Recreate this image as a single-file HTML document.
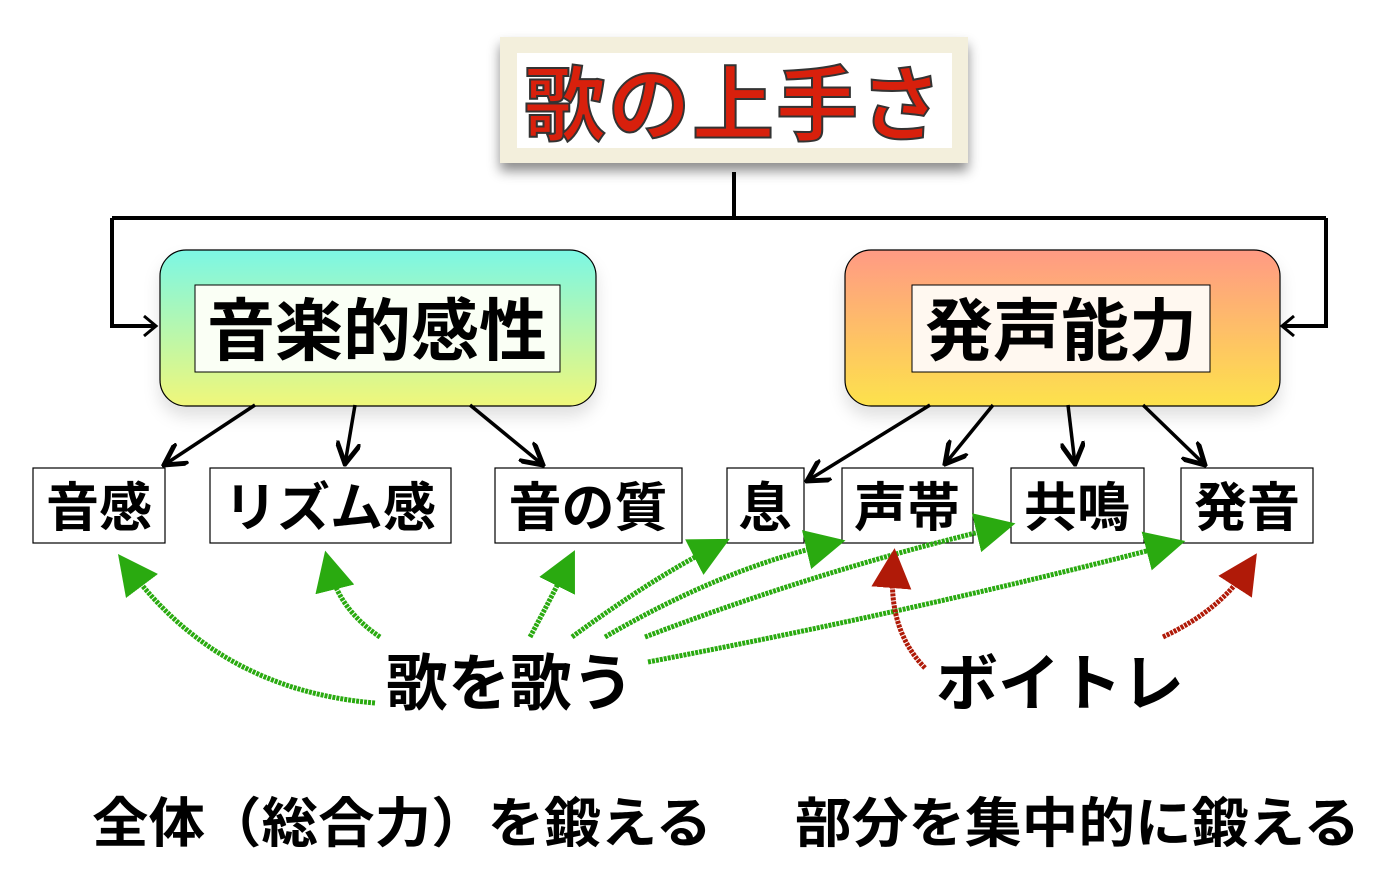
<!DOCTYPE html>
<html><head><meta charset="utf-8"><style>
html,body{margin:0;padding:0;background:#fff;}
svg{display:block}
text{font-family:"Liberation Sans","Noto Sans CJK JP",sans-serif;font-weight:bold;}
</style></head><body>
<svg width="1388" height="880" viewBox="0 0 1388 880" xmlns="http://www.w3.org/2000/svg">
<defs>
<linearGradient id="gl" x1="0" y1="0" x2="0" y2="1"><stop offset="0" stop-color="#7cf7e4"/><stop offset="1" stop-color="#f0f77a"/></linearGradient>
<linearGradient id="gr" x1="0" y1="0" x2="0" y2="1"><stop offset="0" stop-color="#ff9a84"/><stop offset="1" stop-color="#fde24c"/></linearGradient>
<filter id="sh" x="-10%" y="-10%" width="120%" height="140%"><feDropShadow dx="0" dy="8" stdDeviation="6" flood-opacity="0.45"/></filter>
<filter id="sh2" x="-10%" y="-10%" width="120%" height="140%"><feDropShadow dx="0" dy="10" stdDeviation="8" flood-opacity="0.12"/></filter>
<marker id="ab" viewBox="0 0 10 10" refX="9" refY="5" markerWidth="7" markerHeight="7" orient="auto"><path d="M0,0 L9,5 L0,10" fill="none" stroke="#000" stroke-width="2"/></marker>
<marker id="ag" viewBox="0 0 10 10" refX="5" refY="5" markerWidth="8" markerHeight="8" orient="auto"><path d="M0,0 L10,5 L0,10 z" fill="#2aaa10"/></marker>
<marker id="ar" viewBox="0 0 10 10" refX="5" refY="5" markerWidth="8" markerHeight="8" orient="auto"><path d="M0,0 L10,5 L0,10 z" fill="#b01a08"/></marker>
</defs>
<rect x="500" y="37" width="468" height="126" fill="#f3efdc" filter="url(#sh)"/>
<rect x="517" y="53" width="435" height="95" fill="#fff"/>
<text x="734" y="134" font-size="82" fill="#d8200c" stroke="#333" stroke-width="2" text-anchor="middle" letter-spacing="2">歌の上手さ</text>
<path d="M734,172 V218 M112,218 H1326 M112,218 V326 H154 M1326,218 V326 H1284" fill="none" stroke="#000" stroke-width="4"/>
<path d="M144,316 L156,326 L144,336 M1294,316 L1282,326 L1294,336" fill="none" stroke="#000" stroke-width="3"/>
<rect x="160" y="250" width="436" height="156" rx="26" fill="url(#gl)" stroke="#000" stroke-width="1.2" filter="url(#sh2)"/>
<rect x="195" y="285" width="365" height="87" fill="#fafff5" stroke="#000" stroke-width="1"/>
<text x="377" y="355" font-size="68" text-anchor="middle">音楽的感性</text>
<rect x="845" y="250" width="435" height="156" rx="26" fill="url(#gr)" stroke="#000" stroke-width="1.2" filter="url(#sh2)"/>
<rect x="912" y="285" width="298" height="87" fill="#fff8f0" stroke="#000" stroke-width="1"/>
<text x="1061" y="355" font-size="68" text-anchor="middle">発声能力</text>
<g stroke="#000" stroke-width="3.5" marker-end="url(#ab)">
<line x1="255" y1="405" x2="164" y2="465"/>
<line x1="355" y1="405" x2="345" y2="464"/>
<line x1="470" y1="405" x2="543" y2="465"/>
<line x1="930" y1="405" x2="807" y2="481"/>
<line x1="993" y1="405" x2="945" y2="464"/>
<line x1="1068" y1="405" x2="1075" y2="464"/>
<line x1="1143" y1="405" x2="1205" y2="465"/>
</g>
<g fill="#fff" stroke="#000" stroke-width="1.2">
<rect x="33" y="468" width="132" height="75"/>
<rect x="210" y="468" width="241" height="75"/>
<rect x="495" y="468" width="187" height="75"/>
<rect x="727" y="468" width="77" height="75"/>
<rect x="842" y="468" width="131" height="75"/>
<rect x="1011" y="468" width="133" height="75"/>
<rect x="1181" y="468" width="132" height="75"/>
</g>
<g font-size="53" text-anchor="middle">
<text x="99" y="526">音感</text>
<text x="330" y="526">リズム感</text>
<text x="588" y="526">音の質</text>
<text x="765" y="526">息</text>
<text x="907" y="526">声帯</text>
<text x="1077" y="526">共鳴</text>
<text x="1247" y="526">発音</text>
</g>
<g fill="none" stroke="#2aaa10" stroke-width="5" stroke-dasharray="3 1" marker-end="url(#ag)">
<path d="M375,703 Q220,690 130,570"/>
<path d="M380,637 Q340,610 330,570"/>
<path d="M530,637 Q550,600 566,568"/>
<path d="M572,637 Q650,580 712,548"/>
<path d="M605,637 Q720,570 826,545"/>
<path d="M645,637 Q820,570 996,528"/>
<path d="M648,662 Q920,610 1166,546"/>
</g>
<g fill="none" stroke="#b01a08" stroke-width="5" stroke-dasharray="3 1" marker-end="url(#ar)">
<path d="M925,668 Q888,630 893,568"/>
<path d="M1163,637 Q1220,610 1246,570"/>
</g>
<g font-size="62" text-anchor="middle">
<text x="510" y="705">歌を歌う</text>
<text x="1060" y="705">ボイトレ</text>
</g>
<g font-size="54">
<text x="92" y="842" textLength="620" lengthAdjust="spacingAndGlyphs">全体（総合力）を鍛える</text>
<text x="795" y="842" textLength="565" lengthAdjust="spacingAndGlyphs">部分を集中的に鍛える</text>
</g>
</svg>
</body></html>
